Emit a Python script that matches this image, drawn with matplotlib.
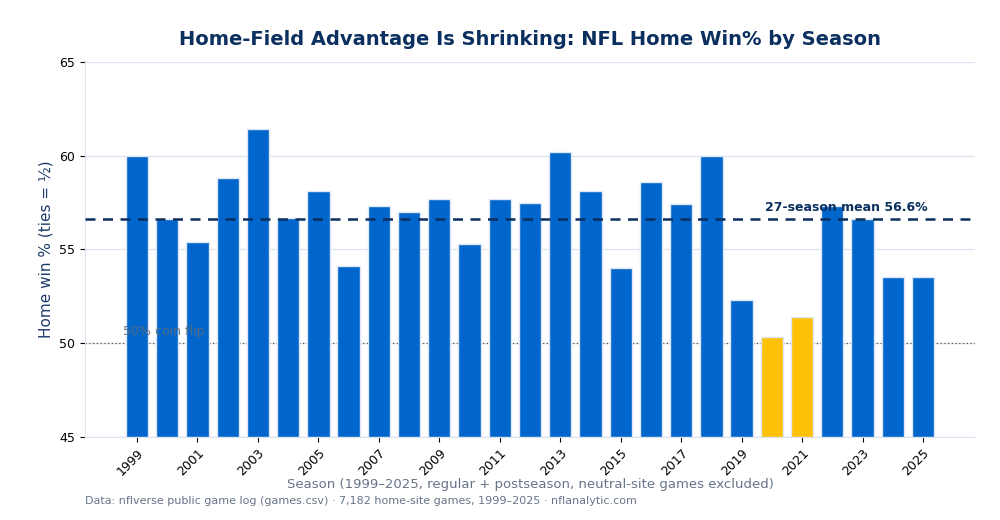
import matplotlib
matplotlib.use("Agg")
import matplotlib.pyplot as plt

seasons = list(range(1999, 2026))
home_win_pct = [60.0, 56.6, 55.4, 58.8, 61.4, 56.7, 58.1, 54.1, 57.3, 57.0,
                57.7, 55.3, 57.7, 57.5, 60.2, 58.1, 54.0, 58.6, 57.4, 60.0,
                52.3, 50.35, 51.4, 57.3, 56.6, 53.55, 53.55]
highlight_seasons = [2020, 2021]
mean_value = 56.6
tick_years = list(range(1999, 2026, 2))

BLUE = "#0066CC"
GOLD = "#FFC107"
NAVY = "#0B2F5E"

fig = plt.figure(figsize=(10, 5.2), dpi=100)
ax = fig.add_axes([0.085, 0.1596, 0.89, 0.7212])

colors = [GOLD if s in highlight_seasons else BLUE for s in seasons]
ax.bar(seasons, [v - 45 for v in home_win_pct], bottom=45, width=0.74,
       color=colors, edgecolor="#DCE6F5", linewidth=1.0, zorder=3)

ax.axhline(mean_value, color=NAVY, linestyle=(0, (4, 3)), linewidth=1.8, zorder=4)
ax.axhline(50, color="#555555", linestyle=(0, (1, 2)), linewidth=0.9, zorder=2)

ax.text(2025.15, mean_value + 0.3, f"27-season mean {mean_value}%", ha="right", va="bottom",
        fontsize=9, fontweight="bold", color=NAVY, zorder=5)
ax.text(1998.55, 50.3, "50% coin flip", ha="left", va="bottom", fontsize=9,
        color="#5F6B7A", alpha=0.9, zorder=5)

ax.set_ylim(45, 65)
ax.set_xlim(1997.28, 2026.72)
ax.set_yticks([45, 50, 55, 60, 65])
ax.set_xticks(tick_years)
ax.set_xticklabels([str(y) for y in tick_years], rotation=45, ha="right",
                   rotation_mode="anchor", fontsize=9)
ax.tick_params(axis="y", labelsize=9)
ax.grid(axis="y", color="#DCE3F0", linewidth=0.9, zorder=0)
ax.set_axisbelow(True)
for sp in ["top", "right"]:
    ax.spines[sp].set_visible(False)
for sp in ["left", "bottom"]:
    ax.spines[sp].set_color("#DCE3F0")

ax.set_ylabel("Home win % (ties = ½)", fontsize=11, color="#1F3D6B")
ax.set_xlabel("Season (1999–2025, regular + postseason, neutral-site games excluded)",
              fontsize=9.5, color="#667488", labelpad=0)
ax.set_title("Home-Field Advantage Is Shrinking: NFL Home Win% by Season",
             fontsize=14, fontweight="bold", color="#0B2F5E", pad=12)

fig.text(0.085, 0.036, "Data: nflverse public game log (games.csv) · 7,182 home-site games, 1999–2025 · nflanalytic.com",
         fontsize=8, color="#667488", ha="left", va="center")

fig.savefig("out.png", dpi=100)
